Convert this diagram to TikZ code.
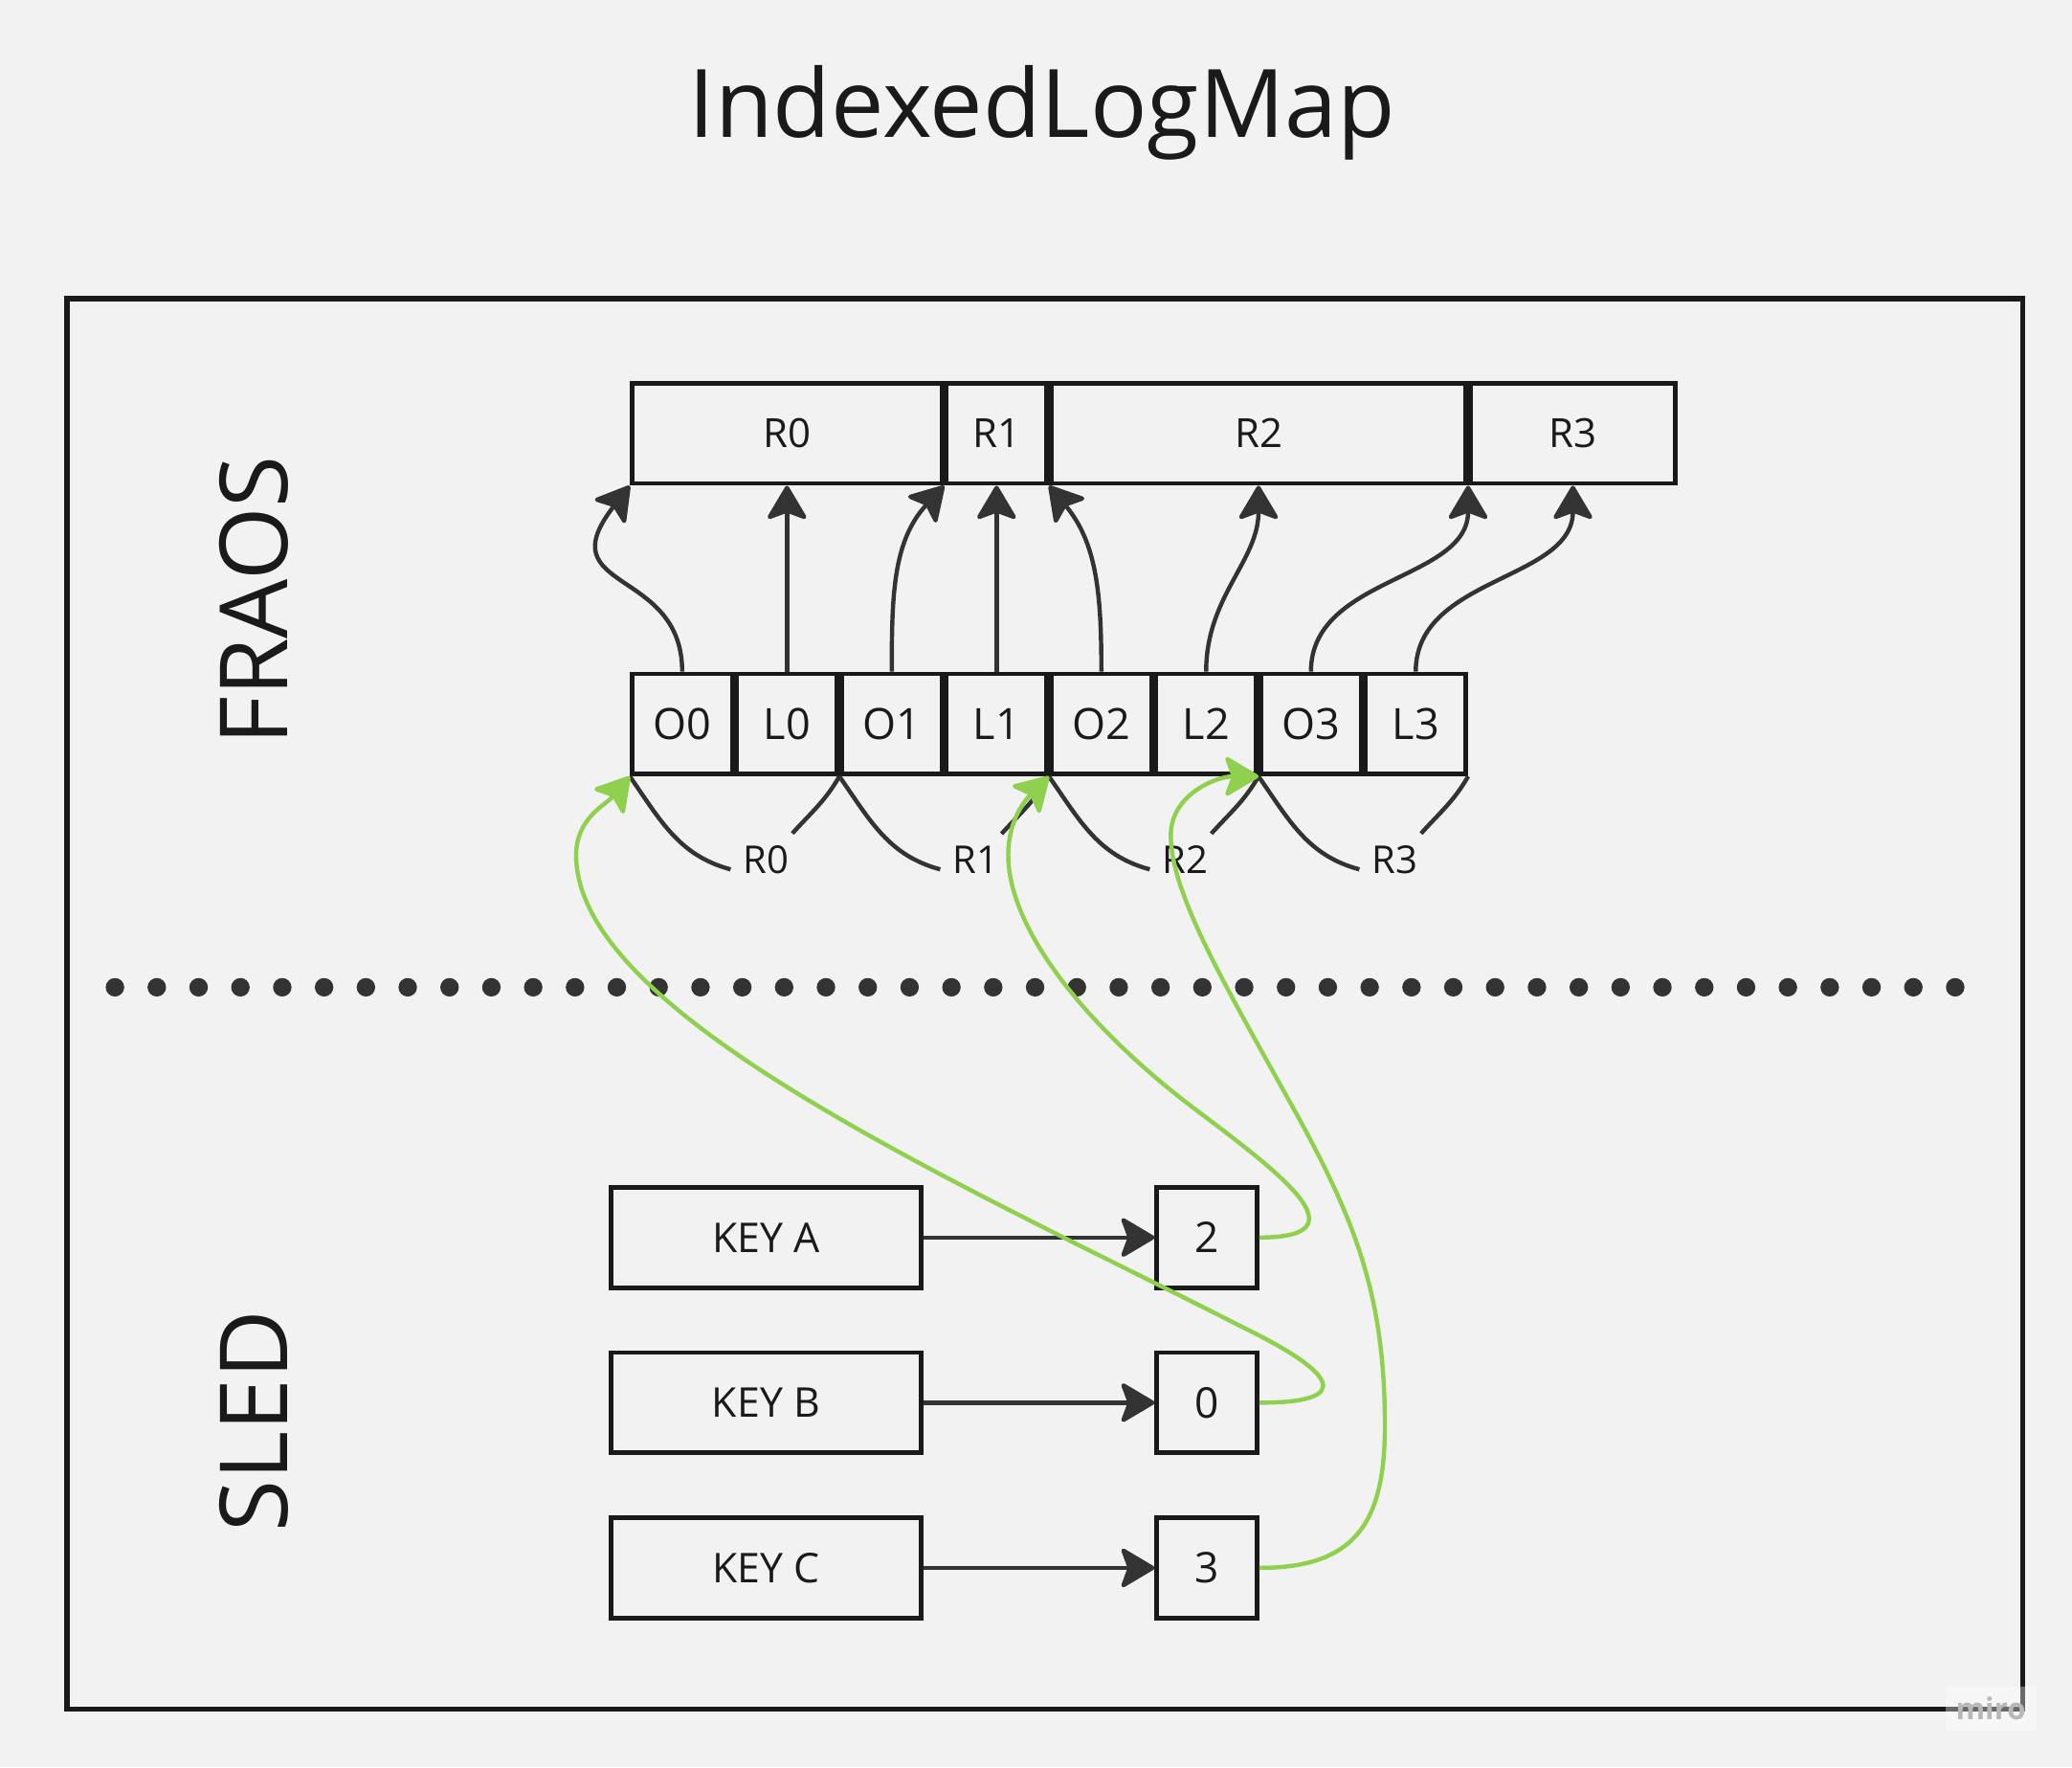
\documentclass[tikz,border=0pt]{standalone}
\usepackage{fontspec}
\setmainfont{Open Sans}
\usetikzlibrary{arrows.meta, positioning}

\definecolor{bg}{HTML}{F2F2F2}
\definecolor{ink}{HTML}{1A1A1A}
\definecolor{wire}{HTML}{333333}
\definecolor{leaf}{HTML}{8FD14F}

\begin{document}
\begin{tikzpicture}[
    x=0.5pt, y=0.5pt,
    cell/.style={draw=ink, line width=1.7pt, outer sep=0.85pt, inner sep=0pt, minimum width=37.95pt, minimum height=37.95pt, text=ink, font=\fontsize{16.3}{19}\selectfont},
    span/.style={cell, minimum width=#1*39.65pt-1.7pt, font=\fontsize{15.2}{18}\selectfont},
    keybox/.style={cell, minimum width=117.25pt, font=\fontsize{15.5}{18}\selectfont},
    valbox/.style={cell, font=\fontsize{16}{19}\selectfont},
    brlabel/.style={fill=bg, text=ink, inner xsep=4.5pt, inner ysep=4.5pt, font=\fontsize{14.5}{17}\selectfont},
    side/.style={rotate=90, anchor=base, text=ink, font=\fontsize{35.6}{40}\selectfont},
    arrow/.style={-{Stealth[length=14pt, width=16.5pt, inset=3pt, round]}, line width=1.6pt, draw=wire},
    lookup/.style={arrow, draw=leaf, line width=1.6pt},
    link/.style={line width=1.6pt, draw=wire},
    sepdots/.style={line width=7pt, line cap=round, draw=wire, dash pattern=on 0pt off 15.825pt},
    wmark/.style={fill=white, fill opacity=0.35, text opacity=1, text=black!28, inner sep=4pt, font=\bfseries\fontsize{11.3}{13}\selectfont}
]

% Page and frame
\path[use as bounding box, fill=bg] (0,0) rectangle (1568,1337);
\draw[ink, line width=1.85pt] (50.7,43.6) rectangle (1530.6,1111);

% Titles
\node[anchor=base, text=ink, font=\fontsize{35.8}{40}\selectfont] (title) at (788.5,1232.7) {IndexedLogMap};
\node[side] (fraos) at (217.8,882.5) {FRAOS};
\node[side] (sled) at (217.8,261.5) {SLED};

% FRAOS cells
\node[cell] (o0) at (516.25,789.2) {O0};
\node[cell, right=0pt of o0] (l0) {L0};
\node[cell, right=0pt of l0] (o1) {O1};
\node[cell, right=0pt of o1] (l1) {L1};
\node[cell, right=0pt of l1] (o2) {O2};
\node[cell, right=0pt of o2] (l2) {L2};
\node[cell, right=0pt of l2] (o3) {O3};
\node[cell, right=0pt of o3] (l3) {L3};

% Ranges
\node[span=3, above right=70.3pt and 0pt of o0.north west] (r0) {R0};
\node[span=1, right=0pt of r0] (r1) {R1};
\node[span=4, right=0pt of r1] (r2) {R2};
\node[span=2, right=0pt of r2] (r3) {R3};

% Offset / length arrows
\draw[arrow] (o0.north) to[out=90, in=-128, out looseness=1.4, in looseness=1.8] (r0.south west);
\draw[arrow] (l0.north) -- (r0.south);
\draw[arrow] (o1.north) to[out=90, in=-133] (r1.south west);
\draw[arrow] (l1.north) -- (r1.south);
\draw[arrow] (o2.north) to[out=90, in=-50] (r2.south west);
\draw[arrow] (l2.north) to[out=90, in=-90] (r2.south);
\draw[arrow] (o3.north) to[out=90, in=-90] (r3.south west);
\draw[arrow] (l3.north) to[out=90, in=-90] (r3.south);

% Range labels under the cells
\node[brlabel] (b0) at ([xshift=-8pt, yshift=-31.6pt]l0.south) {R0};
\node[brlabel] (b1) at ([xshift=-8pt, yshift=-31.6pt]l1.south) {R1};
\node[brlabel] (b2) at ([xshift=-8pt, yshift=-31.6pt]l2.south) {R2};
\node[brlabel] (b3) at ([xshift=-8pt, yshift=-31.6pt]l3.south) {R3};

\draw[link] (o0.south west) to[out=-55, in=165] (b0.195);
\draw[link] (b0.45) to[out=48, in=-120] (l0.south east);
\draw[link] (o1.south west) to[out=-55, in=165] (b1.195);
\draw[link] (b1.45) to[out=48, in=-120] (l1.south east);
\draw[link] (o2.south west) to[out=-55, in=165] (b2.195);
\draw[link] (b2.45) to[out=48, in=-120] (l2.south east);
\draw[link] (o3.south west) to[out=-55, in=165] (b3.195);
\draw[link] (b3.45) to[out=48, in=-120] (l3.south east);

% Separator
\coordinate (dotl) at (87,590);
\coordinate (dotr) at (1480.5,590);
\draw[sepdots] (dotl) -- (dotr);

% SLED keys
\node[keybox] (ka) at (579.7,400.7) {KEY A};
\node[keybox, below=22.85pt of ka] (kb) {KEY B};
\node[keybox, below=22.85pt of kb] (kc) {KEY C};
\node[valbox, right=87.55pt of ka] (va) {2};
\node[valbox, right=87.55pt of kb] (vb) {0};
\node[valbox, right=87.55pt of kc] (vc) {3};

\draw[arrow] (ka.east) -- (va.west);
\draw[arrow] (kb.east) -- (vb.west);
\draw[arrow] (kc.east) -- (vc.west);

% Lookups back into FRAOS
\draw[lookup] (va.east) to[out=0, in=-37, looseness=1.9] (904.5,497.7) to[out=143, in=-90, out looseness=1.1, in looseness=0.6] (763,690) to[out=90, in=-135] (o2.south west);
\draw[lookup] (vb.east) to[out=0, in=-26, looseness=3.3] (940,333) to[out=153, in=-90, in looseness=0.5] (436,690) to[out=90, in=-130] (o0.south west);
\draw[lookup] (vc.east) to[out=0, in=-90, looseness=1.3] (1048,258) to[out=90, in=-61] (979,498) to[out=119, in=-90, out looseness=1.2, in looseness=0.5] (886,705) to[out=90, in=180] (o3.south west);

\node[wmark] (miro) at (1506.5,44.2) {miro};

\end{tikzpicture}
\end{document}
